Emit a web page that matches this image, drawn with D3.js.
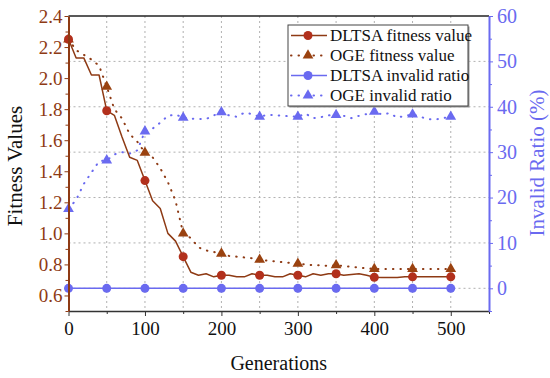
<!DOCTYPE html>
<html>
<head>
<meta charset="utf-8">
<script src="https://cdn.jsdelivr.net/npm/d3@7"></script>
<style>
  body { margin: 0; background: #fff; }
  svg, svg text { font-family: "Liberation Serif", "Times New Roman", serif; }
</style>
</head>
<body>
<svg id="chart" width="550" height="378"></svg>
<script>
// generations sampled every 10
var gens = d3.range(0, 510, 10);

var dltsaFitness = [2.25, 2.13, 2.13, 2.02, 2.02, 1.79, 1.76, 1.62, 1.49, 1.47,
  1.34, 1.21, 1.16, 1.00, 0.95, 0.85, 0.75, 0.73, 0.74, 0.72,
  0.73, 0.73, 0.72, 0.72, 0.74, 0.73, 0.73, 0.72, 0.72, 0.74,
  0.73, 0.72, 0.74, 0.73, 0.74, 0.74, 0.73, 0.735, 0.74, 0.73,
  0.717, 0.715, 0.715, 0.715, 0.72, 0.72, 0.72, 0.72, 0.72, 0.72, 0.72];

var ogeFitness = [2.25, 2.18, 2.15, 2.12, 2.08, 1.945, 1.80, 1.74, 1.64, 1.59,
  1.52, 1.49, 1.42, 1.33, 1.21, 1.00, 0.97, 0.91, 0.89, 0.88,
  0.87, 0.855, 0.85, 0.845, 0.84, 0.83, 0.825, 0.82, 0.815, 0.81,
  0.805, 0.80, 0.795, 0.795, 0.79, 0.795, 0.79, 0.785, 0.78, 0.775,
  0.771, 0.771, 0.771, 0.771, 0.771, 0.771, 0.771, 0.771, 0.771, 0.771, 0.771];

var dltsaInvalid = gens.map(function () { return 0; });

var ogeInvalid = [17.5, 19.5, 23, 25.5, 28, 28.2, 29.5, 30, 29.7, 30.4,
  34.6, 35.2, 36.5, 38, 38.3, 37.6, 37.4, 37.3, 37.3, 38.1,
  38.8, 38.1, 37.8, 38.7, 38.4, 37.8, 38.2, 38.2, 38.0, 37.9,
  37.8, 38.5, 37.5, 37.7, 38.1, 38.2, 38.0, 37.5, 38.0, 38.4,
  38.9, 38.3, 38.6, 37.6, 38.0, 38.3, 37.8, 37.3, 37.2, 37.5, 37.8];

var xTicks = [0, 100, 200, 300, 400, 500];
var leftTicks = [0.6, 0.8, 1.0, 1.2, 1.4, 1.6, 1.8, 2.0, 2.2, 2.4];
var rightTicks = [0, 10, 20, 30, 40, 50, 60];
var legendLabels = ["DLTSA fitness value", "OGE fitness value", "DLTSA invalid ratio", "OGE invalid ratio"];

var brown = "#8e3a14", red = "#b2301c", triBrown = "#9a4210", blue = "#6a6af0";
var serif = "'Liberation Serif', 'Times New Roman', serif";

var svg = d3.select("#chart");
var pL = 68.5, pR = 489, pT = 16, pB = 311;

var x = d3.scaleLinear().domain([0, 550]).range([pL, pR]);
var yL = d3.scaleLinear().domain([0.5, 2.4]).range([pB, pT]);
var yR = d3.scaleLinear().domain([-5, 60]).range([pB, pT]);

// grid
var grid = svg.append("g").attr("stroke", "#b0b0b0").attr("stroke-dasharray", "2,3").attr("stroke-width", 1);
d3.range(50, 550, 50).forEach(function (g) {
  grid.append("line").attr("x1", x(g)).attr("x2", x(g)).attr("y1", pT).attr("y2", pB);
});
d3.range(0, 60, 10).forEach(function (v) {
  grid.append("line").attr("x1", pL).attr("x2", pR).attr("y1", yR(v)).attr("y2", yR(v));
});

function pts(vals) { return gens.map(function (g, i) { return [g, vals[i]]; }); }
function marks(vals) { return pts(vals).filter(function (d) { return d[0] % 50 === 0; }); }

var lineL = d3.line().x(function (d) { return x(d[0]); }).y(function (d) { return yL(d[1]); });
var lineR = d3.line().x(function (d) { return x(d[0]); }).y(function (d) { return yR(d[1]); });

var tri = d3.symbol().type(d3.symbolTriangle).size(50);

// OGE invalid ratio
svg.append("path").attr("d", lineR(pts(ogeInvalid))).attr("fill", "none")
  .attr("stroke", blue).attr("stroke-width", 2).attr("stroke-linecap", "round").attr("stroke-dasharray", "0.5,7");
svg.selectAll(".tb").data(marks(ogeInvalid)).enter().append("path")
  .attr("d", tri).attr("fill", blue)
  .attr("transform", function (d) { return "translate(" + x(d[0]) + "," + yR(d[1]) + ")"; });

// DLTSA invalid ratio
svg.append("path").attr("d", lineR(pts(dltsaInvalid))).attr("fill", "none")
  .attr("stroke", blue).attr("stroke-width", 1.6);
svg.selectAll(".cb").data(marks(dltsaInvalid)).enter().append("circle")
  .attr("cx", function (d) { return x(d[0]); }).attr("cy", function (d) { return yR(d[1]); })
  .attr("r", 4.5).attr("fill", blue);

// OGE fitness
svg.append("path").attr("d", lineL(pts(ogeFitness))).attr("fill", "none")
  .attr("stroke", brown).attr("stroke-width", 2).attr("stroke-linecap", "round").attr("stroke-dasharray", "0.5,7");
svg.selectAll(".tr").data(marks(ogeFitness)).enter().append("path")
  .attr("d", tri).attr("fill", triBrown)
  .attr("transform", function (d) { return "translate(" + x(d[0]) + "," + yL(d[1]) + ")"; });

// DLTSA fitness
svg.append("path").attr("d", lineL(pts(dltsaFitness))).attr("fill", "none")
  .attr("stroke", brown).attr("stroke-width", 1.5).attr("stroke-linejoin", "round");
svg.selectAll(".cr").data(marks(dltsaFitness)).enter().append("circle")
  .attr("cx", function (d) { return x(d[0]); }).attr("cy", function (d) { return yL(d[1]); })
  .attr("r", 4.5).attr("fill", red);

// top border
svg.append("line").attr("x1", pL).attr("x2", pR).attr("y1", pT).attr("y2", pT)
  .attr("stroke", "#222").attr("stroke-width", 1.5);

// bottom axis
var xAxis = svg.append("g").attr("transform", "translate(0," + pB + ")")
  .call(d3.axisBottom(x).tickValues(xTicks).tickFormat(d3.format("d")).tickSize(5).tickSizeOuter(0).tickPadding(6))
  .attr("font-family", serif).attr("font-size", 19);
xAxis.select(".domain").attr("stroke", "#333").attr("stroke-width", 1.5);
xAxis.selectAll(".tick line").attr("stroke", "#333");
xAxis.selectAll("text").attr("fill", "#111");
svg.append("g").attr("transform", "translate(0," + pB + ")")
  .call(d3.axisBottom(x).tickValues([50, 150, 250, 350, 450, 550]).tickFormat("").tickSize(3).tickSizeOuter(0))
  .call(function (g) { g.select(".domain").remove(); g.selectAll("line").attr("stroke", "#333"); });

// left axis
var yAxisL = svg.append("g").attr("transform", "translate(" + pL + ",0)")
  .call(d3.axisLeft(yL).tickValues(leftTicks).tickFormat(d3.format(".1f")).tickSize(4).tickSizeOuter(0).tickPadding(2))
  .attr("font-family", serif).attr("font-size", 19);
yAxisL.select(".domain").attr("stroke", brown).attr("stroke-width", 2);
yAxisL.selectAll(".tick line").attr("stroke", brown);
yAxisL.selectAll("text").attr("fill", "#8e3a14");
svg.append("g").attr("transform", "translate(" + pL + ",0)")
  .call(d3.axisLeft(yL).tickValues(d3.range(0.5, 2.4, 0.2)).tickFormat("").tickSize(3).tickSizeOuter(0))
  .call(function (g) { g.select(".domain").remove(); g.selectAll("line").attr("stroke", brown); });

// right axis
var yAxisR = svg.append("g").attr("transform", "translate(" + pR + ",0)")
  .call(d3.axisRight(yR).tickValues(rightTicks).tickSize(4).tickSizeOuter(0).tickPadding(4))
  .attr("font-family", serif).attr("font-size", 20);
yAxisR.select(".domain").attr("stroke", blue).attr("stroke-width", 2);
yAxisR.selectAll(".tick line").attr("stroke", blue);
yAxisR.selectAll("text").attr("fill", blue);
svg.append("g").attr("transform", "translate(" + pR + ",0)")
  .call(d3.axisRight(yR).tickValues(d3.range(-5, 60, 10)).tickFormat("").tickSize(3).tickSizeOuter(0))
  .call(function (g) { g.select(".domain").remove(); g.selectAll("line").attr("stroke", blue); });

// axis titles
svg.append("text").attr("x", (pL + pR) / 2).attr("y", 370).attr("text-anchor", "middle")
  .attr("font-size", 20).attr("fill", "#111").text("Generations");
svg.append("text").attr("transform", "translate(22,166) rotate(-90)").attr("text-anchor", "middle")
  .attr("font-size", 21).attr("fill", "#111").text("Fitness Values");
svg.append("text").attr("transform", "translate(544,163) rotate(-90)").attr("text-anchor", "middle")
  .attr("font-size", 21).attr("fill", blue).text("Invalid Ratio (%)");

// legend
var lg = svg.append("g").attr("transform", "translate(288,25)");
lg.append("rect").attr("x", 1.5).attr("y", 1.5).attr("width", 180).attr("height", 81).attr("fill", "#999");
lg.append("rect").attr("width", 180).attr("height", 81).attr("fill", "#fff").attr("stroke", "#444").attr("stroke-width", 1);
var styles = [
  { c: brown, m: red, dash: null, shape: "circle" },
  { c: brown, m: triBrown, dash: "0.5,7", shape: "tri" },
  { c: blue, m: blue, dash: null, shape: "circle" },
  { c: blue, m: blue, dash: "0.5,7", shape: "tri" }
];
legendLabels.forEach(function (label, i) {
  var s = styles[i], cy = 10.5 + i * 20;
  lg.append("line").attr("x1", 3).attr("x2", 39).attr("y1", cy).attr("y2", cy)
    .attr("stroke", s.c).attr("stroke-width", s.dash ? 2 : 1.6)
    .attr("stroke-linecap", s.dash ? "round" : "butt").attr("stroke-dasharray", s.dash);
  if (s.shape === "circle") {
    lg.append("circle").attr("cx", 20).attr("cy", cy).attr("r", 4.5).attr("fill", s.m);
  } else {
    lg.append("path").attr("d", tri).attr("fill", s.m).attr("transform", "translate(20," + cy + ")");
  }
  lg.append("text").attr("x", 42).attr("y", cy + 5.5).attr("font-size", 17).attr("fill", "#111").text(label);
});
</script>
</body>
</html>
